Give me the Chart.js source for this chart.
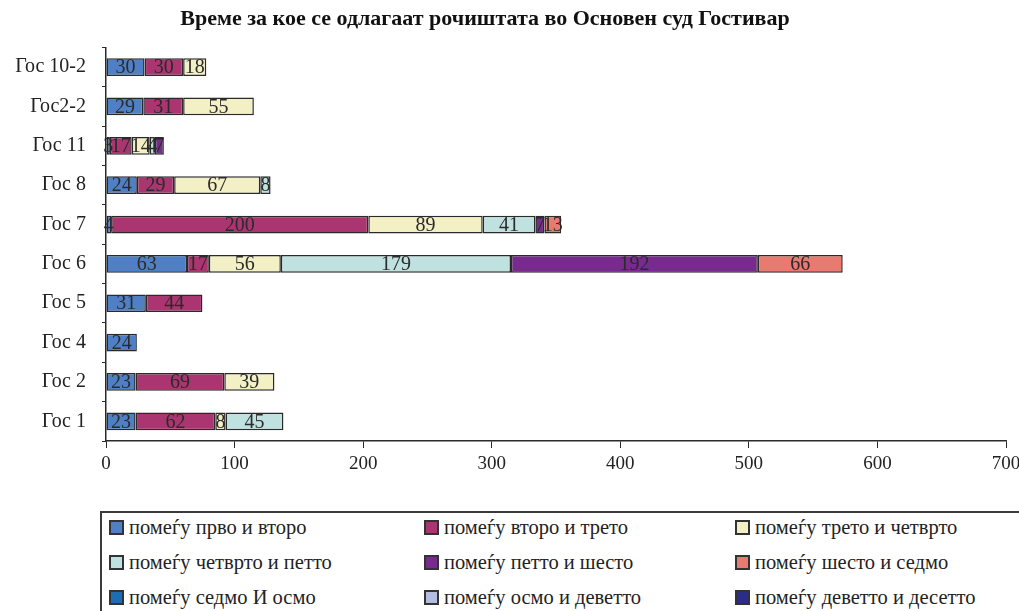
<!DOCTYPE html>
<html lang="mk">
<head>
<meta charset="utf-8">
<title>Време за кое се одлагаат рочиштата</title>
<script src="https://cdn.jsdelivr.net/npm/chart.js@4.4.1/dist/chart.umd.min.js"></script>
<style>
  body { margin: 0; background: #fff; }
  #wrap { position: relative; width: 1019px; height: 611px; overflow: hidden; }
  #chart { position: absolute; left: 0; top: 0; }
  #legend {
    position: absolute; left: 100px; top: 511px; width: 1000px; height: 120px;
    border-top: 2px solid #3a3a3a; border-left: 2px solid #3a3a3a;
    font-family: 'Liberation Serif', 'DejaVu Serif', serif; font-size: 20.5px; color: #222;
  }
  #legend .grid {
    display: grid; grid-template-columns: 315px 311px 1fr; grid-auto-rows: 35px;
    margin-top: -3px; padding-left: 7px;
  }
  #legend .item { display: flex; align-items: center; white-space: nowrap; }
  #legend .box {
    width: 11px; height: 11px; border: 2px solid #333; margin-right: 5px; flex: none;
  }
</style>
</head>
<body>
<div id="wrap">
  <canvas id="chart" width="1019" height="490"></canvas>
  <div id="legend"><div class="grid"></div></div>
</div>
<script>
// --- Податоци ---
const categories = ['Гос 10-2', 'Гос2-2', 'Гос 11', 'Гос 8', 'Гос 7', 'Гос 6', 'Гос 5', 'Гос 4', 'Гос 2', 'Гос 1'];

const seriesNames = [
  'помеѓу прво и второ', 'помеѓу второ и трето', 'помеѓу трето и четврто',
  'помеѓу четврто и петто', 'помеѓу петто и шесто', 'помеѓу шесто и седмо',
  'помеѓу седмо И осмо', 'помеѓу осмо и деветто', 'помеѓу деветто и десетто',
];

const prvoVtoro      = [30, 29, 3, 24, 4, 63, 31, 24, 23, 23];
const vtoroTreto     = [30, 31, 17, 29, 200, 17, 44, null, 69, 62];
const tretoCetvrto   = [18, 55, 14, 67, 89, 56, null, null, 39, 8];
const cetvrtoPetto   = [null, null, 4, 8, 41, 179, null, null, null, 45];
const pettoSesto     = [null, null, 7, null, 7, 192, null, null, null, null];
const sestoSedmo     = [null, null, null, null, 13, 66, null, null, null, null];
const sedmoOsmo      = [null, null, null, null, null, null, null, null, null, null];
const osmoDevetto    = [null, null, null, null, null, null, null, null, null, null];
const devettoDesetto = [null, null, null, null, null, null, null, null, null, null];

const xTicks = [0, 100, 200, 300, 400, 500, 600, 700];

const seriesData = [prvoVtoro, vtoroTreto, tretoCetvrto, cetvrtoPetto, pettoSesto,
  sestoSedmo, sedmoOsmo, osmoDevetto, devettoDesetto];

const seriesColors = ['#4f80c6', '#ab3570', '#f4f0c6', '#bfe1df', '#782a8e',
  '#e97a70', '#1d6db4', '#b3bde0', '#2b2d8c'];

const FONT = "'Liberation Serif', 'DejaVu Serif', serif";
const INK = '#2a2a2a';

// Бројки во средината на секој сегмент
const segmentLabels = {
  id: 'segmentLabels',
  afterDatasetsDraw(chart) {
    const ctx = chart.ctx;
    ctx.save();
    ctx.font = `20px ${FONT}`;
    ctx.fillStyle = '#2b2b2b';
    ctx.textAlign = 'center';
    ctx.textBaseline = 'middle';
    chart.data.datasets.forEach((ds, i) => {
      const meta = chart.getDatasetMeta(i);
      meta.data.forEach((bar, j) => {
        const v = ds.data[j];
        if (v == null) return;
        const { x, base, y } = bar.getProps(['x', 'base', 'y'], true);
        ctx.fillText(String(v), (x + base) / 2, y + 1);
      });
    });
    ctx.restore();
  },
};

// Насловот малку налево, како над целиот цртеж со легендата
const titleShift = {
  id: 'titleShift',
  afterLayout(chart) {
    if (chart.titleBlock) chart.titleBlock.left -= 49;
  },
};

const chart = new Chart(document.getElementById('chart'), {
  type: 'bar',
  data: {
    labels: categories,
    datasets: seriesNames.map((name, i) => ({
      label: name,
      data: seriesData[i],
      backgroundColor: seriesColors[i],
      borderColor: INK,
      borderWidth: 1.5,
      borderSkipped: false,
      barPercentage: 0.45,
      categoryPercentage: 1,
    })),
  },
  options: {
    indexAxis: 'y',
    responsive: false,
    animation: false,
    layout: { padding: { left: 0, right: 0, top: 0, bottom: 0 } },
    plugins: {
      legend: { display: false },
      tooltip: { enabled: false },
      title: {
        display: true,
        text: 'Време за кое се одлагаат рочиштата во Основен суд Гостивар',
        font: { family: FONT, size: 22, weight: 'bold' },
        color: '#111',
        padding: { top: 6, bottom: 15 },
      },
    },
    scales: {
      x: {
        stacked: true,
        min: 0,
        max: 700,
        afterBuildTicks: (s) => { s.ticks = xTicks.map(v => ({ value: v })); },
        afterFit: (s) => { s.height = 49; s.paddingRight = 13; },
        border: { color: INK, width: 1.5 },
        grid: { drawOnChartArea: false, drawTicks: true, tickLength: 7, color: INK },
        ticks: { color: '#222', font: { family: FONT, size: 19 }, padding: 5 },
      },
      y: {
        stacked: true,
        afterFit: (s) => { s.width = 106; },
        border: { color: INK, width: 1.5 },
        grid: { drawOnChartArea: false, drawTicks: true, tickLength: 4, color: INK },
        ticks: { color: '#222', font: { family: FONT, size: 20 }, padding: 16 },
      },
    },
  },
  plugins: [segmentLabels, titleShift],
});

// Легенда во три колони
const grid = document.querySelector('#legend .grid');
chart.data.datasets.forEach((ds) => {
  const item = document.createElement('div');
  item.className = 'item';
  const box = document.createElement('span');
  box.className = 'box';
  box.style.background = ds.backgroundColor;
  item.appendChild(box);
  item.appendChild(document.createTextNode(ds.label));
  grid.appendChild(item);
});
</script>
</body>
</html>
